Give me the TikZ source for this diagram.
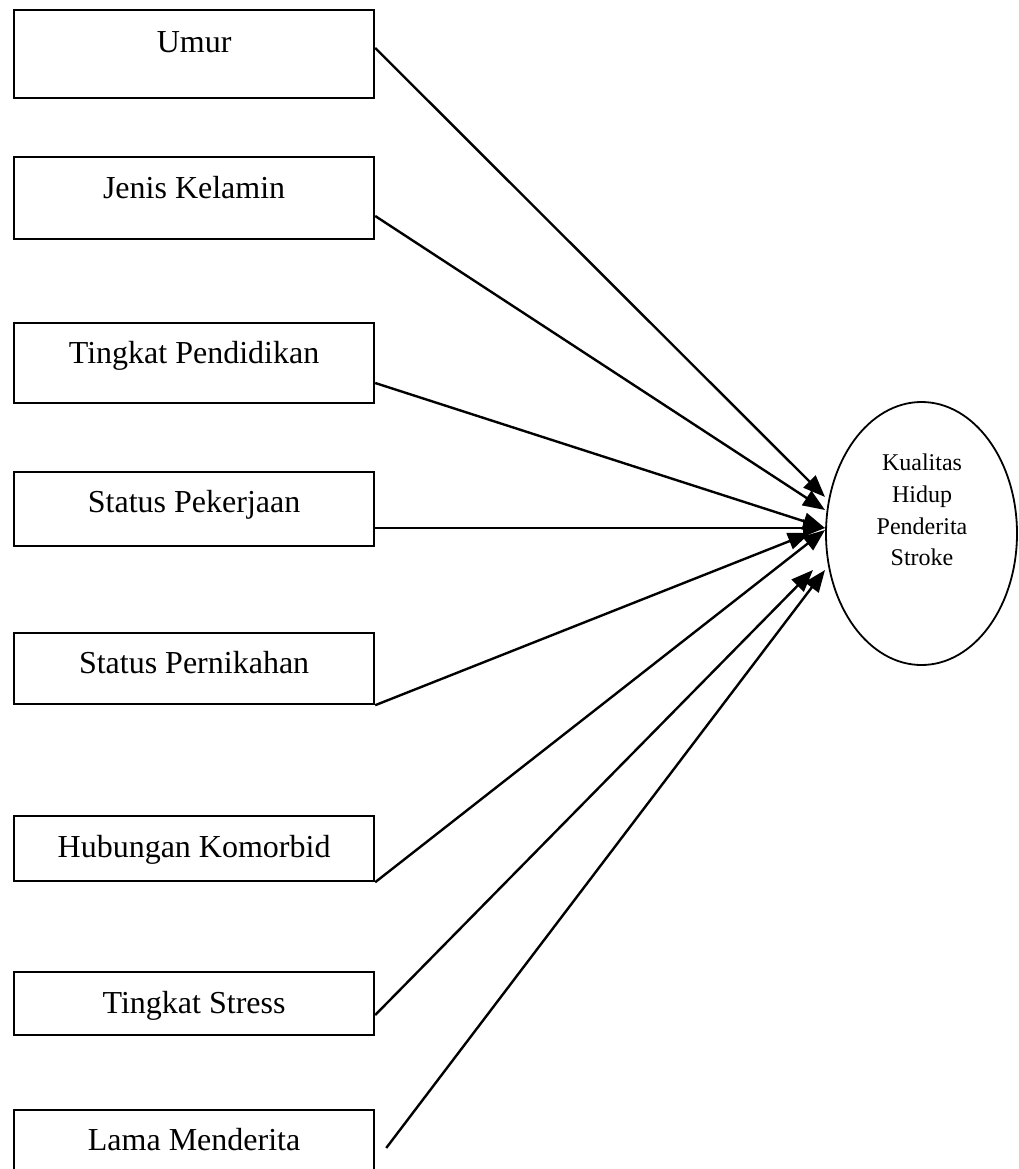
\documentclass[tikz,border=0pt]{standalone}
\usepackage{fontspec}
\setmainfont{Liberation Serif}
\usetikzlibrary{shapes.geometric,arrows.meta,calc}
\begin{document}
\begin{tikzpicture}[x=1pt,y=-1pt,
  varbox/.style={draw, line width=2.2pt, inner ysep=0pt, inner xsep=0pt,
    minimum width=360pt, anchor=north west, font=\fontsize{32}{34}\selectfont},
  outcome/.style={draw, ellipse, line width=1.8pt, minimum width=191pt, minimum height=263pt, inner sep=0pt},
  outtext/.style={align=center, font=\fontsize{24}{31.7}\selectfont, inner sep=0pt},
  link/.style={line width=2.4pt, -{Triangle[length=22pt,width=17pt]}}]
\clip (0,0) rectangle (1019,1169);
\fill[white] (0,0) rectangle (1019,1169);
% boxes: text height = baseline - top, text depth = bottom - baseline
\node[varbox, text height=42pt, text depth=46pt] (b1) at (13,9) {Umur};
\node[varbox, text height=41pt, text depth=41pt] (b2) at (13,156) {Jenis Kelamin};
\node[varbox, text height=40pt, text depth=40pt] (b3) at (13,322) {Tingkat Pendidikan};
\node[varbox, text height=40pt, text depth=34pt] (b4) at (13,471) {Status Pekerjaan};
\node[varbox, text height=40pt, text depth=31pt] (b5) at (13,632) {Status Pernikahan};
\node[varbox, text height=41pt, text depth=24pt] (b6) at (13,815) {Hubungan Komorbid};
\node[varbox, text height=41pt, text depth=22pt] (b7) at (13,971) {Tingkat Stress};
\node[varbox, text height=40pt, text depth=40pt] (b8) at (13,1109) {Lama Menderita};
% outcome
\node[outcome] (e) at (921.5,533.5) {};
\node[outtext] (et) at (922,510) {Kualitas\\Hidup\\Penderita\\Stroke};
% connectors
\draw[link] ($(b1.north east)+(0,39)$) -- ($(e.center)+(-96.5,-36.5)$);
\draw[link] ($(b2.north east)+(0,60)$) -- ($(e.center)+(-96.5,-23.5)$);
\draw[link] ($(b3.north east)+(0,61)$) -- ($(e.center)+(-96.5,-5.5)$);
\draw[link] ($(b4.north east)+(0,57)$) -- ($(e.center)+(-96.5,-5.5)$);
\draw[link] (b5.south east) -- ($(e.center)+(-111.5,-0.5)$);
\draw[link] (b6.south east) -- ($(e.center)+(-96.5,-3.5)$);
\draw[link] ($(b7.north east)+(0,44)$) -- ($(e.center)+(-108.5,36.5)$);
\draw[link] ($(b8.north east)+(11,39)$) -- ($(e.center)+(-96.5,36.5)$);
\end{tikzpicture}
\end{document}
